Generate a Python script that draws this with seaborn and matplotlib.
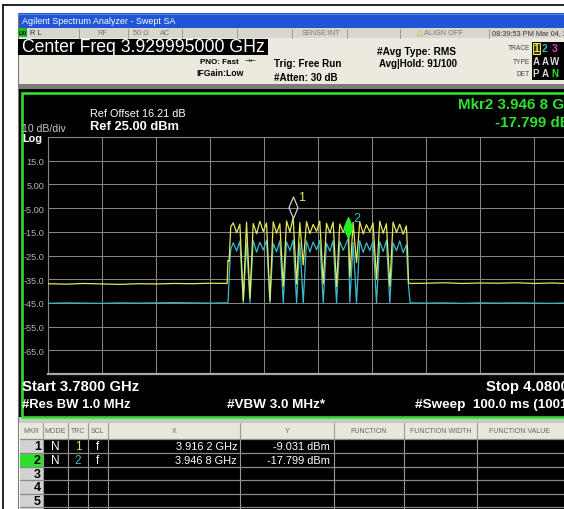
import seaborn as sns
import matplotlib.pyplot as plt
import pandas as pd
from matplotlib.patches import Rectangle
from matplotlib.lines import Line2D
from matplotlib.markers import MarkerStyle
from matplotlib.path import Path

# sweep settings
start_ghz = 3.78
stop_ghz = 4.08
ref_dbm = 25.0
bottom_dbm = -75.0

# trace 1 (yellow, peak) and trace 2 (cyan, average)
freq_left = [3.780, 3.790, 3.800, 3.810, 3.820, 3.830, 3.840, 3.850, 3.860, 3.870,
             3.8795, 3.8800, 3.8806, 3.8815]
freq_band = [3.8829, 3.8848, 3.8866, 3.8885, 3.8903, 3.8922, 3.8940, 3.8959, 3.8977, 3.8996,
             3.9014, 3.9033, 3.9051, 3.9070, 3.9088, 3.9107, 3.9125, 3.9144, 3.9162, 3.9181,
             3.9199, 3.9218, 3.9236, 3.9255, 3.9273, 3.9292, 3.9310, 3.9329, 3.9347, 3.9366,
             3.9384, 3.9403, 3.9421, 3.9440, 3.9468, 3.9477, 3.9495, 3.9514, 3.9532, 3.9551,
             3.9569, 3.9588, 3.9606, 3.9625, 3.9643, 3.9662, 3.9680, 3.9699, 3.9717, 3.9736,
             3.9754, 3.9773, 3.9791]
freq_right = [3.9797, 3.9803, 3.9812, 3.990, 4.000, 4.010, 4.020, 4.030, 4.040, 4.050,
              4.060, 4.070, 4.080]

trace1_left = [-36.9, -37.1, -36.8, -37.0, -37.2, -36.9, -37.0, -36.8, -36.9, -36.7,
               -36.8, -27.0, -27.5, -13.0]
trace1_band = [-11.2, -15.4, -11.8, -44.0, -10.9, -43.0, -11.5, -15.8, -10.6, -14.9,
               -11.3, -44.0, -10.8, -15.6, -11.6, -38.0, -10.4, -15.1, -9.0, -37.0,
               -11.1, -29.0, -10.7, -15.7, -11.9, -14.8, -10.5, -37.0, -11.4, -15.5,
               -10.9, -38.0, -11.7, -15.2, -10.6, -34.0, -11.0, -28.0, -10.8, -15.9,
               -12.0, -15.0, -11.3, -35.0, -10.5, -15.6, -11.6, -38.0, -10.9, -15.3,
               -11.8, -16.0, -12.5]
trace1_right = [-22.0, -36.5, -36.8, -36.7, -36.5, -36.8, -36.6, -36.7, -36.5, -36.8,
                -36.6, -36.9, -36.6]

trace2_left = [-45.2, -45.0, -45.1, -45.2, -45.0, -45.1, -45.0, -44.9, -45.0, -45.1,
               -45.0, -44.8, -35.0, -22.5]
trace2_band = [-19.6, -23.1, -18.9, -45.0, -19.8, -44.8, -18.7, -23.6, -19.4, -22.7,
               -18.6, -45.0, -19.9, -23.4, -18.8, -45.0, -19.2, -22.9, -18.5, -44.9,
               -19.7, -45.0, -18.9, -23.5, -19.3, -22.6, -18.6, -45.0, -19.8, -23.2,
               -18.7, -45.0, -19.1, -22.8, -17.8, -44.7, -19.5, -45.0, -18.8, -23.7,
               -19.6, -22.9, -18.9, -45.0, -19.2, -23.3, -18.6, -45.0, -19.7, -23.0,
               -18.9, -23.8, -20.5]
trace2_right = [-30.0, -38.0, -45.0, -45.1, -45.0, -45.2, -45.0, -45.1, -45.0, -45.1,
                -45.2, -45.0, -45.1]

ytick_levels = [25, 15, 5, -5, -15, -25, -35, -45, -55, -65, -75]
ytick_labels = ['', '15.0', '5.00', '-5.00', '-15.0', '-25.0', '-35.0', '-45.0', '-55.0', '-65.0', '']

# marker table
mkr_ids = ['1', '2', '3', '4', '5']
mkr_mode = ['N', 'N']
mkr_trace = ['1', '2']
mkr_scale = ['f', 'f']
mkr_freq = [3.9162, 3.9468]
mkr_level = [-9.031, -17.799]
table_cols = ['MKR', 'MODE', 'TRC', 'SCL', 'X', 'Y', 'FUNCTION', 'FUNCTION WIDTH', 'FUNCTION VALUE']

YEL = '#e6e65a'
CYN = '#3cb9c9'
GRN = '#2fe02f'
GRID = '#858585'
FONT = ['Liberation Sans', 'DejaVu Sans']

sns.set_style('white')
plt.rcParams['font.family'] = FONT

W, H = 564, 510
fig = plt.figure(figsize=(W / 100, H / 100), dpi=100)
fig.patch.set_facecolor('white')


def fx(x):
    return x / W


def fy(y):
    return 1 - y / H


def box(x0, y0, x1, y1, fc, ec='none', lw=0, z=-2):
    fig.add_artist(Rectangle((fx(x0), fy(y1)), (x1 - x0) / W, (y1 - y0) / H,
                             transform=fig.transFigure, facecolor=fc, edgecolor=ec,
                             linewidth=lw, zorder=z))


def line(x0, y0, x1, y1, color, lw=0.8, z=-1):
    fig.add_artist(Line2D([fx(x0), fx(x1)], [fy(y0), fy(y1)], transform=fig.transFigure,
                          color=color, linewidth=lw, zorder=z))


def put(x, y, s, size, color, ha='left', weight='normal', family=None):
    fig.text(fx(x), fy(y), s, fontsize=size, color=color, ha=ha, va='center',
             fontweight=weight, family=family if family else FONT)


# outer page frame
line(3, 6, 3, 510, 'black', lw=1.2)
line(3, 6, 564, 6, 'black', lw=1.2)
line(18, 14, 18, 510, '#7a7a7a', lw=0.8)

# title bar and status row
box(18, 14, 564, 29, '#1f55d6')
line(18, 14.5, 564, 14.5, '#5a86e8', lw=0.8)
put(22, 21.5, 'Agilent Spectrum Analyzer - Swept SA', 6.5, 'white')
box(18, 29, 564, 39, '#d9d6cf')
for sx in [79, 128, 182, 237, 292, 347, 400, 489]:
    line(sx, 29.5, sx, 38.5, '#9a9a9a', lw=0.7)
box(18, 29, 27, 38, '#22b822', z=-1)
put(22.5, 33.7, 'LXI', 3.8, 'black', ha='center', weight='bold')
put(30, 33.7, 'R L', 5.3, '#333')
put(97, 33.7, 'RF', 5.3, '#777')
put(133, 33.7, '50 Ω', 5.3, '#777')
put(160, 33.7, 'AC', 5.3, '#777')
put(302, 33.7, 'SENSE:INT', 5.3, '#777')
put(416, 33.2, '⚠', 6.5, '#d9b000', family=['DejaVu Sans'])
put(424, 33.7, 'ALIGN OFF', 5.3, '#777')
put(492, 33.7, '08:39:53 PM Mar 04, 2016', 5.3, '#333')

# settings header
box(18, 39, 564, 87, '#ece9df')
box(18, 40, 268, 56, 'black', z=-1)
put(22, 48, 'Center Freq 3.929995000 GHz', 12.7, 'white')
put(200, 62, 'PNO: Fast', 5.8, 'black', weight='bold')
put(245, 61.5, '→←', 5, '#222', family=['DejaVu Sans'])
put(196, 74, 'IFGain:Low', 6.2, 'black', weight='bold')
put(274, 64, 'Trig: Free Run', 7.1, 'black', weight='bold')
put(274, 78, '#Atten: 30 dB', 7.1, 'black', weight='bold')
put(377, 52, '#Avg Type: RMS', 7.3, 'black', weight='bold')
put(379, 64, 'Avg|Hold: 91/100', 7.0, 'black', weight='bold')
put(530, 49, 'TRACE', 4.8, '#444', ha='right')
put(530, 62, 'TYPE', 4.8, '#444', ha='right')
put(530, 74, 'DET', 4.8, '#444', ha='right')
box(532, 43, 564, 81, 'black', z=-1)
box(532.5, 44, 540, 55, '#333300', ec=YEL, lw=0.8, z=-0.5)
for col, lab, c in zip([536, 545, 555], ['1', '2', '3'], [YEL, CYN, '#e040e0']):
    put(col, 49.5, lab, 7.5, c, ha='center', weight='bold')
for col, lab in zip([536, 545, 555], ['A', 'A', 'W']):
    put(col, 62, lab, 7, '#d8d8d8', ha='center', weight='bold')
for col, lab, c in zip([536, 545, 555], ['P', 'A', 'N'], ['#d8d8d8', '#d8d8d8', GRN]):
    put(col, 74, lab, 7, c, ha='center', weight='bold')
box(18, 85, 564, 90, '#7c7c7c')

# graph window
box(18, 90, 564, 420, 'black')
box(21.5, 94, 620, 417.5, 'black', ec=GRN, lw=1.9, z=-1)

ax = fig.add_axes([fx(48), fy(375), 540 / W, 237 / H])
ax.set_facecolor('black')

df_all = pd.DataFrame({
    'freq': freq_left + freq_band + freq_right + freq_left + freq_band + freq_right,
    'level': trace1_left + trace1_band + trace1_right + trace2_left + trace2_band + trace2_right,
    'trace': ['1'] * (len(freq_left) + len(freq_band) + len(freq_right))
             + ['2'] * (len(freq_left) + len(freq_band) + len(freq_right)),
})
sns.lineplot(data=df_all, x='freq', y='level', hue='trace', hue_order=['2', '1'],
             palette={'1': YEL, '2': CYN}, estimator=None, sort=False, legend=False,
             linewidth=0.9, ax=ax, zorder=3)

ax.set_xlim(start_ghz, stop_ghz)
ax.set_ylim(bottom_dbm, ref_dbm)
ax.set_xticks([start_ghz + 0.03 * k for k in range(11)])
ax.set_yticks(ytick_levels)
ax.set_yticklabels(ytick_labels)
ax.set_xticklabels([])
ax.grid(True, color=GRID, linewidth=0.75)
ax.tick_params(length=0, pad=2.5, labelsize=6.6, labelcolor='#b5b5b5')
for side in ['left', 'top', 'right']:
    ax.spines[side].set_color(GRID)
    ax.spines[side].set_linewidth(0.8)
ax.spines['bottom'].set_color('#a8a8a8')
ax.spines['bottom'].set_linewidth(1.6)
ax.set_xlabel('')
ax.set_ylabel('')

# markers: diamond with its lower tip on the trace point
tip = MarkerStyle(Path([(0, 0), (0.42, 1.0), (0, 2.0), (-0.42, 1.0), (0, 0)],
                       [Path.MOVETO, Path.LINETO, Path.LINETO, Path.LINETO, Path.CLOSEPOLY]))
ax.plot(mkr_freq[0], mkr_level[0], marker=tip, markersize=31, markerfacecolor='none',
        markeredgecolor='#d0d0d0', markeredgewidth=0.9, linestyle='none', zorder=5)
ax.plot(mkr_freq[1], mkr_level[1], marker=tip, markersize=30, markerfacecolor='#22ee22',
        markeredgecolor='#22ee22', linestyle='none', zorder=5)
for i, c in enumerate([YEL, CYN]):
    ax.annotate(str(i + 1), xy=(mkr_freq[i], mkr_level[i]), xytext=(6.2, 15),
                textcoords='offset points', color=c, fontsize=9, ha='center', va='center',
                zorder=6)

put(90, 114, 'Ref Offset 16.21 dB', 7.8, 'white')
put(90, 127, 'Ref %.2f dBm' % ref_dbm, 9.3, 'white', weight='bold')
put(22, 129, '10 dB/div', 7.6, '#c8c8c8')
put(22, 139.5, 'Log', 7.8, 'white', weight='bold')

f2 = '%.4f' % mkr_freq[1]
put(458, 105, 'Mkr2 %s %s GHz' % (f2[:-1], f2[-1]), 10.9, GRN, weight='bold')
put(495, 123, '%.3f dBm' % mkr_level[1], 10.9, GRN, weight='bold')

put(22, 387, 'Start %.4f GHz' % start_ghz, 10.7, 'white', weight='bold')
put(486, 387, 'Stop %.4f GHz' % stop_ghz, 10.7, 'white', weight='bold')
put(22, 405, '#Res BW 1.0 MHz', 9.4, 'white', weight='bold')
put(227, 405, '#VBW 3.0 MHz*', 9.7, 'white', weight='bold')
put(415, 405, '#Sweep  100.0 ms (1001 pts)', 9.7, 'white', weight='bold')

# marker table
col_edges = [20, 43, 68, 88, 108, 240, 334, 404, 477, 640]
row_edges = [440, 454, 467.5, 481, 494.5, 508]
box(18, 418, 564, 424, '#c9c9c9')
box(20, 424, 564, 440, '#e9e6dc')
box(20, 440, 564, 510, 'black')
box(20, 440, 43, 510, '#d2d2d2', z=-1.5)
box(20, row_edges[1], 43, row_edges[2], '#2ee02e', z=-1.4)
for cx in col_edges[1:-1]:
    line(cx, 424, cx, 510, '#9a9a9a', lw=0.8)
for ry in row_edges:
    line(20, ry, 564, ry, '#8a8a8a', lw=0.9)
for i, name in enumerate(table_cols):
    put((col_edges[i] + col_edges[i + 1]) / 2 if i < 8 else 489, 432, name, 5.0, '#666',
        ha='center' if i < 8 else 'left')
for i, mk in enumerate(mkr_ids):
    yc = (row_edges[i] + row_edges[i + 1]) / 2 + 0.5
    put(41, yc, mk, 9, 'black', ha='right', weight='bold')
for i in range(len(mkr_freq)):
    yc = (row_edges[i] + row_edges[i + 1]) / 2 + 0.5
    put(55.5, yc, mkr_mode[i], 8.5, 'white', ha='center')
    put(78, yc, mkr_trace[i], 8.5, [YEL, CYN][i], ha='center')
    put(98, yc, mkr_scale[i], 8.5, 'white', ha='center')
    fs = '%.4f' % mkr_freq[i]
    put(237, yc, '%s %s GHz' % (fs[:-1], fs[-1]), 7.9, 'white', ha='right')
    put(330, yc, '%.3f dBm' % mkr_level[i], 7.9, 'white', ha='right')

plt.savefig('out.png', dpi=100)
